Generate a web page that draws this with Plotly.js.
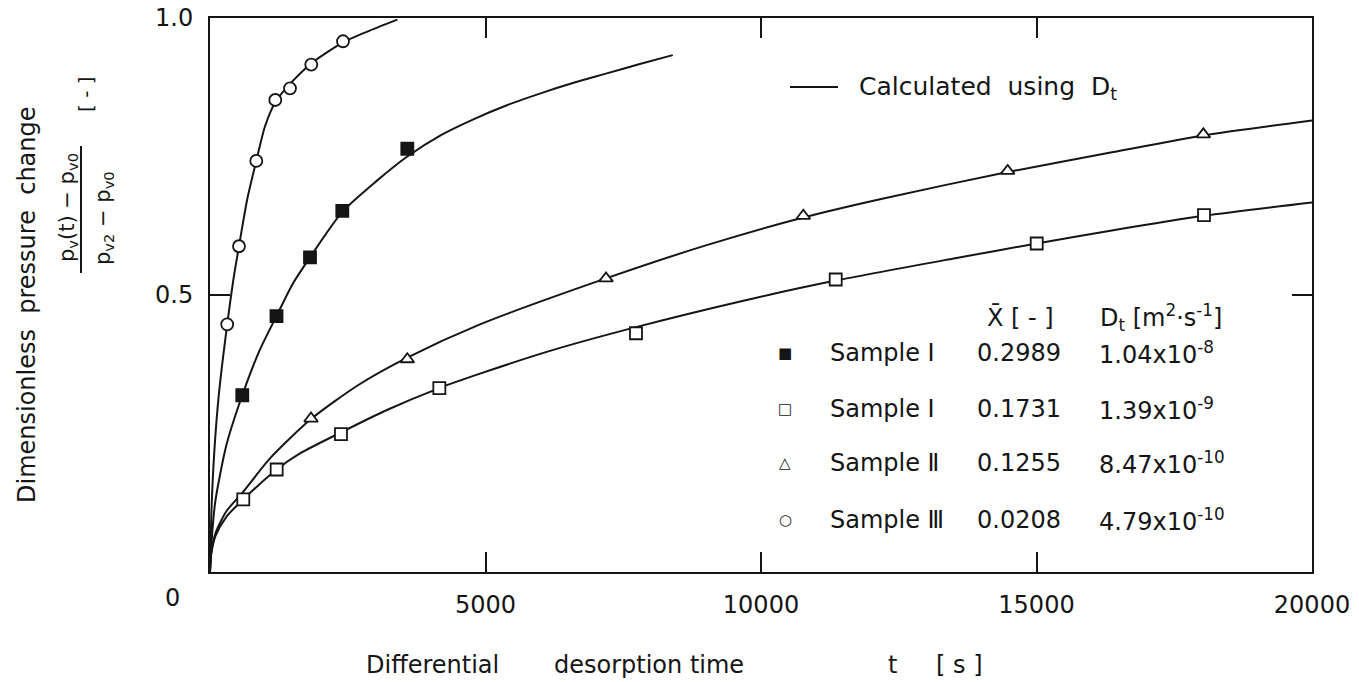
<!DOCTYPE html>
<html><head><meta charset="utf-8">
<script src="https://cdn.plot.ly/plotly-3.0.1.min.js"></script>
<style>html,body{margin:0;padding:0;background:#fff}#chart{width:1359px;height:682px}</style>
</head><body><div id="chart"></div>
<script>
// ---- measured points ----
const sIII_t = [312, 526, 840, 1185, 1452, 1838, 2414];
const sIII_y = [0.447, 0.588, 0.742, 0.852, 0.873, 0.916, 0.958];
const sIa_t = [586, 1207, 1815, 2401, 3581];
const sIa_y = [0.319, 0.462, 0.568, 0.652, 0.764];
const sII_t = [1833, 3581, 7187, 10768, 14477, 18028];
const sII_y = [0.277, 0.384, 0.530, 0.643, 0.724, 0.790];
const sIb_t = [604, 1210, 2377, 4162, 7731, 11356, 15004, 18040];
const sIb_y = [0.131, 0.185, 0.249, 0.332, 0.431, 0.528, 0.593, 0.644];

// ---- calculated curves ----
const cIII_t = [0, 30, 80, 160, 312, 420, 526, 680, 840, 1000, 1185, 1452, 1838, 2414, 2844, 3400];
const cIII_y = [0, 0.12, 0.22, 0.32, 0.447, 0.525, 0.588, 0.675, 0.742, 0.805, 0.848, 0.881, 0.918, 0.956, 0.975, 0.997];
const cIa_t = [0, 40, 100, 300, 586, 900, 1207, 1500, 1815, 2401, 3025, 3581, 4200, 4800, 5400, 6000, 6600, 7200, 7800, 8398];
const cIa_y = [0, 0.07, 0.13, 0.23, 0.319, 0.40, 0.462, 0.52, 0.568, 0.650, 0.706, 0.750, 0.789, 0.818, 0.843, 0.864, 0.883, 0.900, 0.917, 0.933];
const cII_t = [0, 20, 100, 300, 604, 1089, 1833, 2700, 3581, 4900, 7187, 9014, 10768, 12160, 14477, 16394, 18028, 20000];
const cII_y = [0, 0.034, 0.07, 0.11, 0.145, 0.205, 0.276, 0.338, 0.387, 0.447, 0.530, 0.590, 0.640, 0.673, 0.722, 0.758, 0.788, 0.815];
const cIb_t = [0, 20, 100, 300, 604, 1210, 1633, 2377, 3200, 4162, 4900, 6200, 7731, 9740, 11356, 13500, 15004, 16394, 18040, 20000];
const cIb_y = [0, 0.03, 0.065, 0.10, 0.131, 0.185, 0.214, 0.252, 0.292, 0.332, 0.358, 0.400, 0.442, 0.491, 0.526, 0.566, 0.593, 0.617, 0.643, 0.667];

// ---- table / labels ----
const xTickVals = [0, 5000, 10000, 15000, 20000];
const xTickText = ['', '5000', '10000', '15000', '20000'];
const yTickVals = [0, 0.5, 1.0];
const yTickText = ['', '0.5', '1.0'];
const legendKeys = ['\u25A0', '\u25A1', '\u25B3', '\u25CB'];
const legendNames = ['Sample \u2160', 'Sample \u2160', 'Sample \u2161', 'Sample \u2162'];
const legendXbar = ['0.2989', '0.1731', '0.1255', '0.0208'];
const legendDt = ['1.04x10<sup>-8</sup>', '1.39x10<sup>-9</sup>', '8.47x10<sup>-10</sup>', '4.79x10<sup>-10</sup>'];

// pixel helpers for text placement (plot area 210..1312 x 18..572)
const PX = x => (x - 210) / 1102;
const PY = y => (572 - y) / 554;

const FONT = 'DejaVu Sans, Liberation Sans, sans-serif';
const INK = '#151515';

function curve(t, y) {
  return {x: t, y: y, mode: 'lines', type: 'scatter', hoverinfo: 'skip',
    line: {color: INK, width: 2, shape: 'spline', smoothing: 0.7}};
}
function pts(t, y, sym, fill) {
  return {x: t, y: y, mode: 'markers', type: 'scatter',
    marker: {symbol: sym, size: 12, color: fill, line: {color: INK, width: 1.8}}};
}

const traces = [
  curve(cIII_t, cIII_y), curve(cIa_t, cIa_y), curve(cII_t, cII_y), curve(cIb_t, cIb_y),
  pts(sIII_t, sIII_y, 'circle', '#fff'),
  pts(sIa_t, sIa_y, 'square', INK),
  pts(sII_t, sII_y, 'triangle-up', '#fff'),
  pts(sIb_t, sIb_y, 'square', '#fff')
];

const ann = [];
function A(x, y, text, o) {
  ann.push(Object.assign({xref: 'paper', yref: 'paper', x: PX(x), y: PY(y), text: text,
    showarrow: false, xanchor: 'left', yanchor: 'middle',
    font: {family: FONT, size: 24, color: INK}}, o || {}));
}
// y axis title
A(27, 305, 'Dimensionless\u00A0\u00A0pressure\u00A0\u00A0change', {textangle: -90, xanchor: 'center', font: {family: FONT, size: 24, color: INK}});
A(68, 208, 'p<sub>v</sub>(t) \u2212 p<sub>v0</sub>', {textangle: -90, xanchor: 'center', font: {family: FONT, size: 21, color: INK}});
A(104, 218, 'p<sub>v2</sub> \u2212 p<sub>v0</sub>', {textangle: -90, xanchor: 'center', font: {family: FONT, size: 21, color: INK}});
A(86, 94, '[ - ]', {textangle: -90, xanchor: 'center', font: {family: FONT, size: 20, color: INK}});
// origin label
A(172, 598, '0', {xanchor: 'center'});
// x axis title
A(364, 665, 'Differential');
A(552, 665, 'desorption time');
A(886, 665, 't');
A(934, 665, '[ s ]');
// calculated legend
A(857, 88, 'Calculated\u00A0\u00A0using\u00A0\u00A0D<sub>t</sub>', {font: {family: FONT, size: 25, color: INK}});
// table header
A(985, 317, 'X\u0304 [ - ]');
A(1098, 317, 'D<sub>t</sub> [m<sup>2</sup>\u00B7s<sup>-1</sup>]');
const rowY = [353, 409, 463, 520];
for (let i = 0; i < 4; i++) {
  A(785, rowY[i], legendKeys[i], {xanchor: 'center', font: {family: FONT, size: 15, color: INK}});
  A(828, rowY[i], legendNames[i]);
  A(975, rowY[i], legendXbar[i]);
  A(1097, rowY[i], legendDt[i]);
}

const shapes = [
  {type: 'line', xref: 'paper', yref: 'paper', x0: PX(81), x1: PX(81), y0: PY(146), y1: PY(273), line: {color: INK, width: 2}},
  {type: 'line', xref: 'paper', yref: 'paper', x0: PX(790), x1: PX(838), y0: PY(87), y1: PY(87), line: {color: INK, width: 2}}
];

const axisCommon = {showline: true, mirror: 'ticks', linecolor: INK, linewidth: 2,
  ticks: 'inside', ticklen: 20, tickwidth: 2, tickcolor: INK, showgrid: false, zeroline: false,
  tickfont: {family: FONT, size: 24, color: INK}, ticklabelstandoff: 10, fixedrange: true};

const layout = {
  width: 1359, height: 682,
  margin: {l: 210, r: 47, t: 18, b: 110},
  paper_bgcolor: '#fff', plot_bgcolor: '#fff',
  showlegend: false,
  font: {family: FONT, color: INK},
  xaxis: Object.assign({}, axisCommon, {range: [0, 20000], tickvals: xTickVals, ticktext: xTickText}),
  yaxis: Object.assign({}, axisCommon, {range: [0, 1], tickvals: yTickVals, ticktext: yTickText}),
  annotations: ann,
  shapes: shapes
};

Plotly.newPlot('chart', traces, layout, {staticPlot: true, displayModeBar: false});
</script></body></html>
